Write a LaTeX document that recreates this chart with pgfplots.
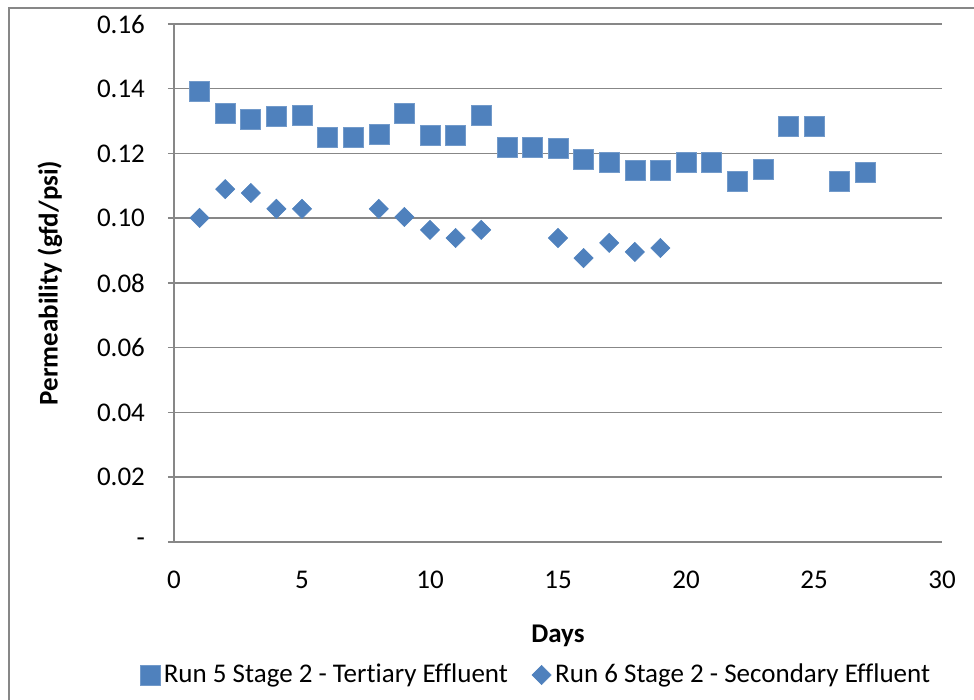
\documentclass[border=0pt]{standalone}
\usepackage{pgfplots}
\pgfplotsset{compat=1.18}
\usepackage{fontspec}
\setmainfont[Ligatures={NoCommon}]{Carlito}
\definecolor{mk}{HTML}{4F81BD}
\definecolor{gl}{HTML}{878787}
\begin{document}
\begin{tikzpicture}
\path[use as bounding box] (-87pt,-79pt) rectangle (400pt,271pt);
\draw[gl,line width=0.75pt] (-82.5pt,-90pt) -- (-82.5pt,267pt) -- (410pt,267pt);
\begin{axis}[
  scale only axis, width=384pt, height=259pt,
  xmin=0, xmax=30, ymin=0, ymax=0.16,
  axis x line*=bottom, axis y line*=left,
  axis line style={gl, line width=0.75pt},
  xtick={0,5,...,30}, xticklabels={0,5,10,15,20,25,30},
  ytick={0,0.02,0.04,0.06,0.08,0.10,0.12,0.14,0.16},
  yticklabels={-,0.02,0.04,0.06,0.08,0.10,0.12,0.14,0.16},
  ymajorgrids, grid style={gl, line width=0.75pt},
  major x tick style={draw=none},
  major y tick style={gl, line width=0.75pt},
  tick align=outside, major tick length=3pt,
  ticklabel style={font=\fontsize{13.5}{15}\selectfont},
  xticklabel style={yshift=-8pt},
  yticklabel style={xshift=-8pt},
  xlabel={Days},
  ylabel={Permeability (gfd/psi)},
  every axis x label/.style={at={(axis description cs:0.5,0)}, anchor=center, yshift=-47pt, font=\fontsize{13.5}{15}\selectfont\bfseries},
  every axis y label/.style={at={(axis description cs:0,0.5)}, xshift=-62pt, anchor=center, rotate=90, font=\fontsize{13.5}{15}\selectfont\bfseries},
  legend columns=2,
  legend style={draw=none, at={(axis description cs:0.5,0)}, anchor=center, yshift=-66.5pt, xshift=-10.5pt,
    font=\fontsize{13.5}{15}\selectfont, /tikz/every even column/.append style={column sep=10pt}},
  legend cell align=left,
]
\addplot[only marks, mark=square*, mark size=5pt, mark options={fill=mk, draw=mk!80!white, line width=0.3pt}]
coordinates {
(1,0.1393)(2,0.1325)(3,0.1307)(4,0.1316)(5,0.1319)(6,0.1251)(7,0.1251)(8,0.1260)(9,0.1325)
(10,0.1257)(11,0.1257)(12,0.1319)(13,0.1220)(14,0.1220)(15,0.1217)(16,0.1183)(17,0.1174)
(18,0.1149)(19,0.1149)(20,0.1174)(21,0.1174)(22,0.1115)(23,0.1152)(24,0.1285)(25,0.1285)
(26,0.1115)(27,0.1143)
};
\addlegendentry{Run 5 Stage 2 - Tertiary Effluent}
\addplot[only marks, mark=square*, mark size=3.4pt, mark options={rotate=45, fill=mk, draw=mk, line width=0.3pt}]
coordinates {
(1,0.1001)(2,0.1090)(3,0.1078)(4,0.1029)(5,0.1029)(8,0.1029)(9,0.1004)(10,0.0964)
(11,0.0939)(12,0.0964)(15,0.0939)(16,0.0877)(17,0.0924)(18,0.0896)(19,0.0908)
};
\addlegendentry{Run 6 Stage 2 - Secondary Effluent}
\end{axis}
\end{tikzpicture}
\end{document}
